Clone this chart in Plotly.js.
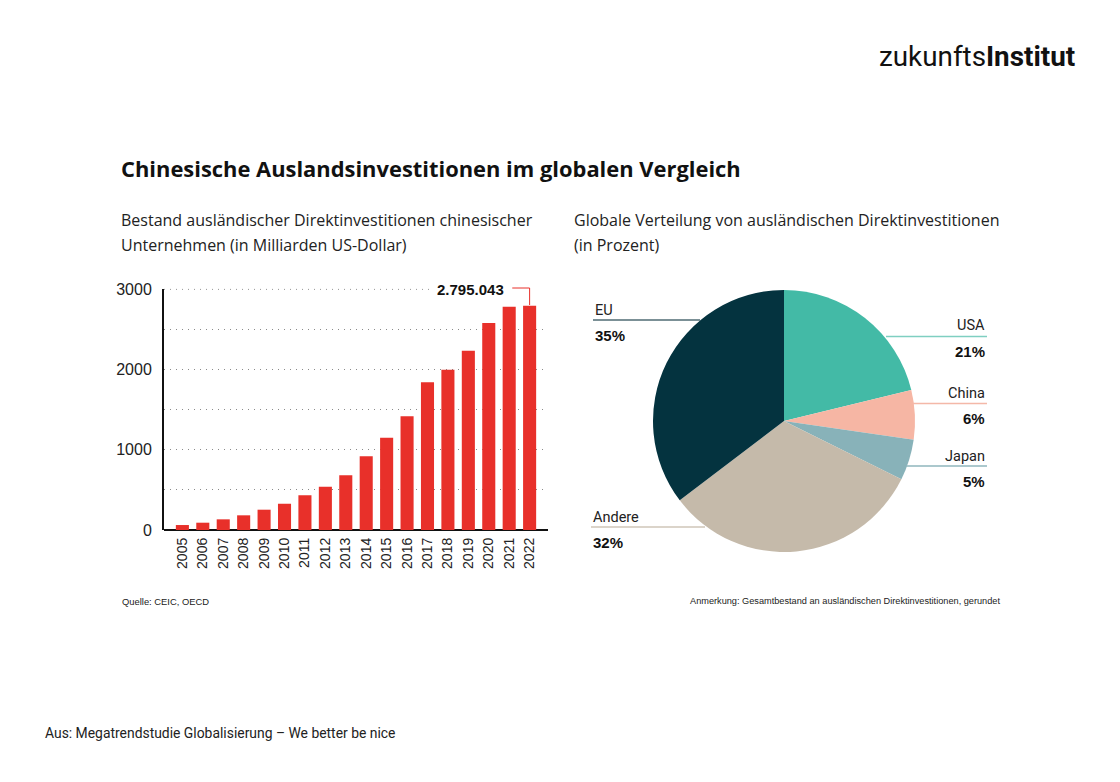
<!DOCTYPE html>
<html>
<head>
<meta charset="utf-8">
<script src="https://cdn.plot.ly/plotly-3.0.1.min.js"></script>
<style>html,body{margin:0;padding:0;background:#fff;}#chart{width:1120px;height:782px;}</style>
</head>
<body>
<div id="chart"></div>
<script>
// ---- data ----
const years = ["2005","2006","2007","2008","2009","2010","2011","2012","2013","2014","2015","2016","2017","2018","2019","2020","2021","2022"];
const fdiStock = [62, 91, 133, 183, 253, 328, 432, 540, 681, 918, 1151, 1417, 1841, 1998, 2235, 2580, 2784, 2795.043];
const highlightLabel = "2.795.043";
const yTickVals = [0, 500, 1000, 1500, 2000, 2500, 3000];
const yTickText = ["0", "", "1000", "", "2000", "", "3000"];

const regions = ["USA", "China", "Japan", "Andere", "EU"];
const shares = [21, 6, 5, 32, 35];
const shareColors = ["#43BAA6", "#F6B6A4", "#88B2B9", "#C5BAAA", "#04333F"];
const lineColors = ["#7fcfc1", "#f4b8a8", "#8fb6bd", "#cfc6b9", "#4f6b73"];

// ---- helpers (pixel -> paper) ----
const W = 1120, H = 782;
const px = x => x / W;
const py = y => 1 - y / H;

const barTrace = {
  type: "bar", x: years, y: fdiStock,
  marker: {color: "#E8302A"},
  xaxis: "x", yaxis: "y", hoverinfo: "x+y"
};

const pieTrace = {
  type: "pie", labels: regions, values: shares,
  marker: {colors: shareColors, line: {width: 0}},
  sort: false, direction: "clockwise", rotation: 0,
  textinfo: "none", showlegend: false,
  domain: {x: [px(653), px(915)], y: [py(552), py(290)]}
};

const txtFont = "Open Sans, Noto Sans, sans-serif";
const groFont = "Roboto, Inter, sans-serif";
const helv = "Liberation Sans, Arial, sans-serif";

function textAt(x, y, text, font, anchor) {
  return {xref:"paper", yref:"paper", x:px(x), y:py(y), xanchor:anchor || "left", yanchor:"middle",
          showarrow:false, text:text, font:font};
}

const annotations = [
  textAt(877, 56, "zukunfts<b>Institut</b>", {family:groFont, size:27.8, color:"#111"}),
  textAt(119, 168, "<b>Chinesische Auslandsinvestitionen im globalen Vergleich</b>", {family:txtFont, size:21.9, color:"#111"}),
  textAt(119, 220, "Bestand ausländischer Direktinvestitionen chinesischer", {family:txtFont, size:16, color:"#222"}),
  textAt(119, 245, "Unternehmen (in Milliarden US-Dollar)", {family:txtFont, size:16, color:"#222"}),
  textAt(572, 220, "Globale Verteilung von ausländischen Direktinvestitionen", {family:txtFont, size:16, color:"#222"}),
  textAt(572, 245, "(in Prozent)", {family:txtFont, size:16, color:"#222"}),
  textAt(120, 601, "Quelle: CEIC, OECD", {family:helv, size:9.4, color:"#222"}),
  textAt(1002, 601, "Anmerkung: Gesamtbestand an ausländischen Direktinvestitionen, gerundet", {family:helv, size:9.2, color:"#222"}, "right"),
  textAt(43, 733, "Aus: Megatrendstudie Globalisierung – We better be nice", {family:groFont, size:13.9, color:"#222"}),
  // bar highlight label
  {xref:"x", yref:"paper", x:17, y:py(289), xanchor:"right", yanchor:"middle", xshift:-22, showarrow:false,
   text:"<b>" + highlightLabel + "</b>", font:{family:helv, size:15, color:"#111"}, bgcolor:"#fff", borderpad:3}
];

// pie labels: [index, name y, line y, line x0, line x1, side]
const pieLabelPos = [
  [0, 326, 336.5, 886, 987, "right"],
  [1, 393, 403.5, 913, 987, "right"],
  [2, 456, 466, 906, 987, "right"],
  [3, 517, 527, 591, 705, "left"],
  [4, 310, 320, 593, 700, "left"]
];
const shapes = [];
pieLabelPos.forEach(p => {
  const [i, ty, ly, x0, x1, side] = p;
  const tx = side === "right" ? x1 : Math.min(x0, x1);
  const anchor = side === "right" ? "right" : "left";
  annotations.push(textAt(tx, ty, regions[i], {family:groFont, size:14.5, color:"#222"}, anchor));
  annotations.push(textAt(tx, ly + 15, "<b>" + shares[i] + "%</b>", {family:helv, size:15, color:"#111"}, anchor));
  shapes.push({type:"line", xref:"paper", yref:"paper", x0:px(x0), x1:px(x1), y0:py(ly), y1:py(ly),
    line:{color:lineColors[i], width:1.3}});
});

// top gridline (Plotly drops the grid line at the very edge of the range); it stops at the highlight label
const topTick = yTickVals[yTickVals.length - 1];
shapes.push({type:"line", xref:"x", yref:"y", x0:-0.9, x1:12.3, y0:topTick, y1:topTick, layer:"below",
  line:{color:"#8a8a8a", width:1, dash:"1px,5px"}});

// connector from highlight label to last bar
const lastIdx = fdiStock.length - 1;
shapes.push({type:"line", xref:"x", yref:"paper", x0:lastIdx - 0.85, x1:lastIdx, y0:py(288), y1:py(288), line:{color:"#E8302A", width:1}});
shapes.push({type:"line", xref:"x", yref:"paper", x0:lastIdx, x1:lastIdx, y0:py(288), y1:py(305), line:{color:"#E8302A", width:1}});

const layout = {
  width: W, height: H,
  margin: {l:0, r:0, t:0, b:0},
  paper_bgcolor: "#fff", plot_bgcolor: "#fff",
  showlegend: false,
  bargap: 0.36,
  xaxis: {
    domain: [px(164), px(548)], range: [-0.9, 17.9], type: "category",
    showgrid: false, showline: false, zeroline: false,
    tickangle: -90, ticks: "", ticklabelstandoff: 4,
    tickfont: {family: helv, size: 14, color: "#222"}, fixedrange: true
  },
  yaxis: {
    domain: [py(530), py(288.5)], range: [0, 3010],
    tickvals: yTickVals, ticktext: yTickText,
    showgrid: true, gridcolor: "#8a8a8a", griddash: "1px,5px", gridwidth: 1,
    showline: true, linecolor: "#111", linewidth: 2,
    zeroline: true, zerolinecolor: "#111", zerolinewidth: 2,
    ticks: "", ticklabelstandoff: 7,
    tickfont: {family: helv, size: 16, color: "#222"}, fixedrange: true
  },
  annotations: annotations,
  shapes: shapes
};

Plotly.newPlot("chart", [barTrace, pieTrace], layout, {displayModeBar: false, staticPlot: true});
</script>
</body>
</html>
